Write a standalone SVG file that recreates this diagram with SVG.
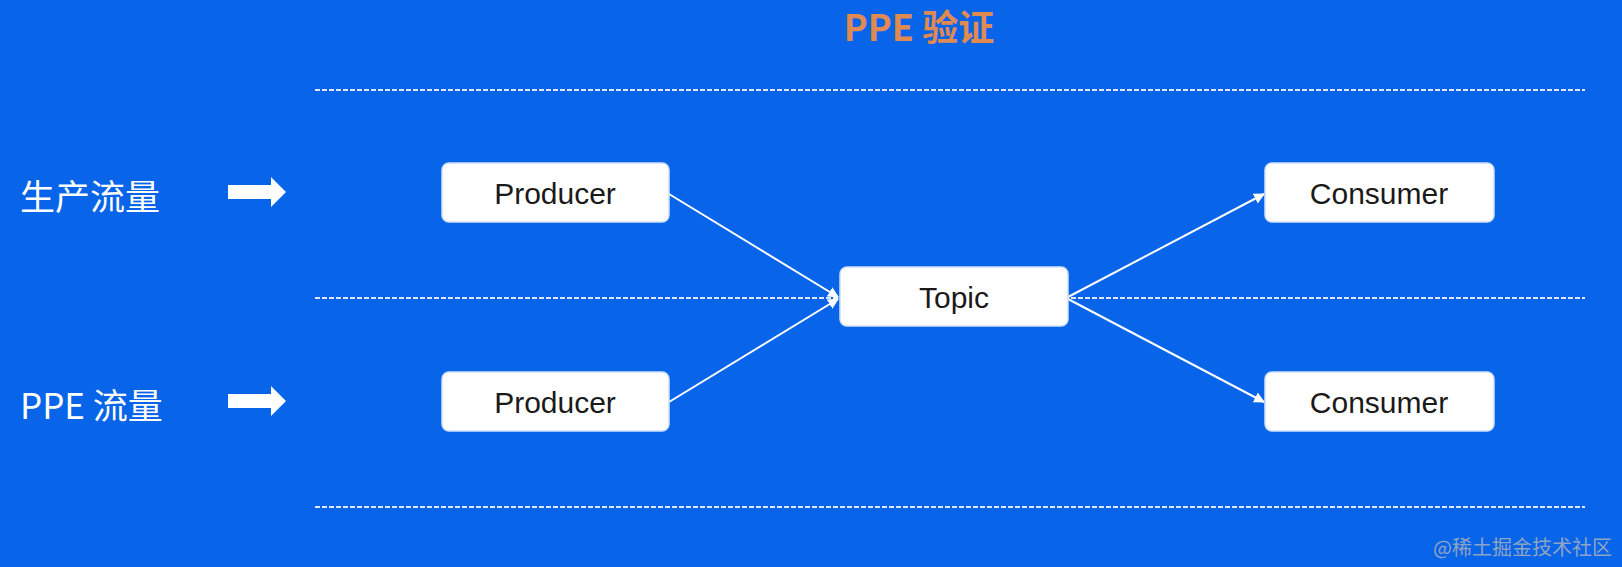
<svg xmlns="http://www.w3.org/2000/svg" width="1622" height="567" viewBox="0 0 1622 567">
<defs>
<style>
.dash{stroke:#dfe9fb;stroke-width:2;stroke-dasharray:5 2;fill:none}
.box{fill:#fff;stroke:#cfe0fa;stroke-width:1.5}
.bt{font-family:"Liberation Sans",Arial,sans-serif;font-size:30px;fill:#1a1a1a;text-anchor:middle;dominant-baseline:central}
.lab{font-family:"Noto Sans CJK SC","Liberation Sans",sans-serif;font-size:35px;fill:#fff;dominant-baseline:central}
.con{stroke:#fff;stroke-width:2;fill:none;marker-end:url(#ah)}
</style>
<marker id="ah" viewBox="0 0 10 10" refX="9" refY="5" markerWidth="11" markerHeight="11" markerUnits="userSpaceOnUse" orient="auto"><path d="M0,0L10,5L0,10z" fill="#fff"/></marker>
</defs>
<rect width="1622" height="567" fill="#0864e8"/>
<text x="919" y="25" font-family="'Noto Sans CJK SC','Liberation Sans',sans-serif" font-size="36" font-weight="bold" fill="#e08a52" text-anchor="middle" dominant-baseline="central">PPE 验证</text>
<g id="guides">
<line class="dash" x1="315" y1="90" x2="1585" y2="90"/>
<line class="dash" x1="315" y1="298" x2="1585" y2="298"/>
<line class="dash" x1="315" y1="507" x2="1585" y2="507"/>
</g>
<g id="labels">
<text class="lab" x="20" y="194">生产流量</text>
<path d="M228,185H271V177L286,192L271,207V199H228Z" fill="#fff"/>
<text class="lab" x="20" y="403">PPE 流量</text>
<path d="M228,394H271V386L286,401L271,416V408H228Z" fill="#fff"/>
</g>
<g id="connectors">
<line class="con" x1="669" y1="194" x2="838" y2="297"/>
<line class="con" x1="669" y1="402" x2="838" y2="299"/>
<line class="con" x1="1068" y1="297" x2="1264" y2="194"/>
<line class="con" x1="1068" y1="299" x2="1264" y2="402"/>
</g>
<g id="producer1"><rect class="box" x="442" y="163" width="227" height="59" rx="7"/><text class="bt" x="555" y="193">Producer</text></g>
<g id="producer2"><rect class="box" x="442" y="372" width="227" height="59" rx="7"/><text class="bt" x="555" y="402">Producer</text></g>
<g id="topic"><rect class="box" x="840" y="267" width="228" height="59" rx="7"/><text class="bt" x="954" y="297">Topic</text></g>
<g id="consumer1"><rect class="box" x="1265" y="163" width="229" height="59" rx="7"/><text class="bt" x="1379" y="193">Consumer</text></g>
<g id="consumer2"><rect class="box" x="1265" y="372" width="229" height="59" rx="7"/><text class="bt" x="1379" y="402">Consumer</text></g>
<text x="1612" y="546" font-family="'Noto Sans CJK SC',sans-serif" font-size="20" fill="#8fa3c4" text-anchor="end" dominant-baseline="central">@稀土掘金技术社区</text>
</svg>
